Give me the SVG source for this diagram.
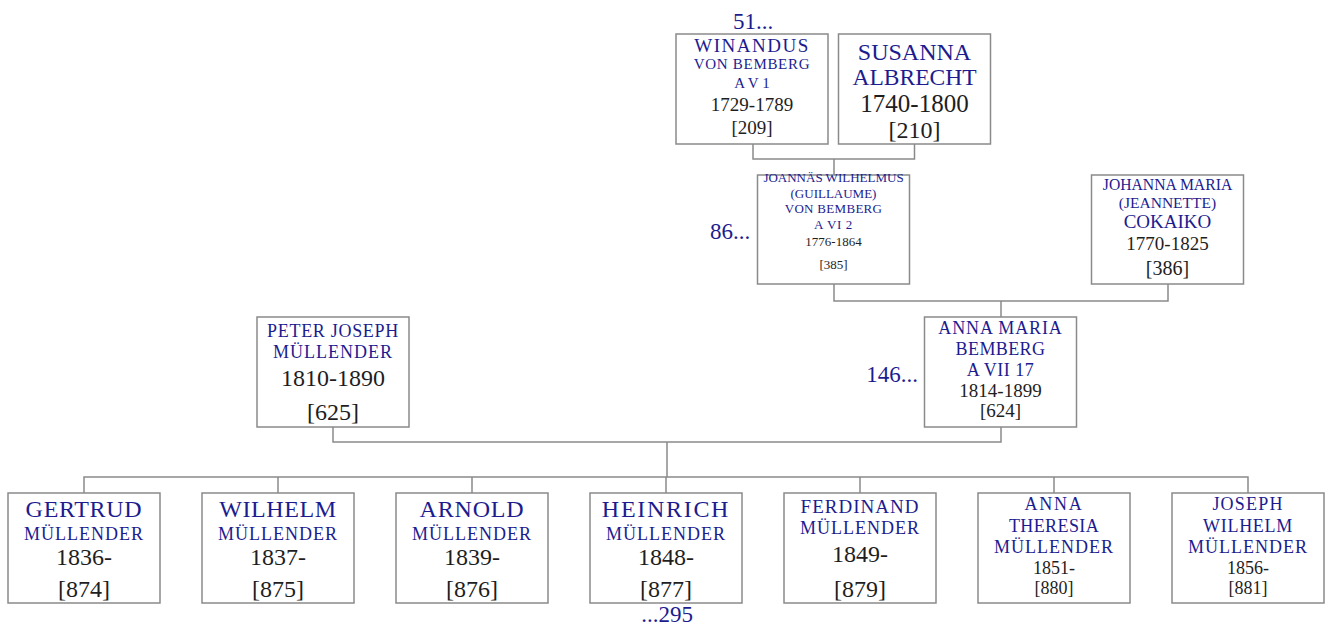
<svg xmlns="http://www.w3.org/2000/svg" width="1329" height="625" viewBox="0 0 1329 625">
<style>
text{font-family:"Liberation Serif","DejaVu Serif",serif;text-anchor:middle}
.n{fill:#1c1c8f}
.d{fill:#1e1e1e}
.box{fill:#fff;stroke:#8a8a8a;stroke-width:1.5}
.c{fill:none;stroke:#8a8a8a;stroke-width:1.5}
.m{font-size:18px;letter-spacing:1px}
</style>
<rect width="1329" height="625" fill="#fff"/>
<g id="connectors">
<path class="c" d="M753 144V159H914.5V144M834 159V175"/>
<path class="c" d="M834 284V301H1168V284M1001 301V317"/>
<path class="c" d="M333 427V442H1001V427M667 442V477"/>
<path class="c" d="M84 493V477H1248V493M278 477V493M472 477V493M666 477V493M860 477V493M1054 477V493"/>
</g>
<g id="more">
<text class="n" x="753" y="29" font-size="23">51...</text>
<text class="n" x="730" y="239" font-size="23">86...</text>
<text class="n" x="892" y="382" font-size="23">146...</text>
<text class="n" x="667" y="622" font-size="23">...295</text>
</g>
<g id="winandus">
<rect class="box" x="676" y="34" width="152" height="110"/>
<text class="n" x="752" y="52" font-size="19" letter-spacing="1.5">WINANDUS</text>
<text class="n" x="752" y="69" font-size="15" letter-spacing="0.7">VON BEMBERG</text>
<text class="n" x="752" y="88" font-size="15">A V 1</text>
<text class="d" x="752" y="111" font-size="19">1729-1789</text>
<text class="d" x="752" y="134" font-size="19">[209]</text>
</g>
<g id="susanna">
<rect class="box" x="838.5" y="34" width="152" height="110"/>
<text class="n" x="914.5" y="60" font-size="24">SUSANNA</text>
<text class="n" x="914.5" y="85" font-size="23.5">ALBRECHT</text>
<text class="d" x="914.5" y="112" font-size="25">1740-1800</text>
<text class="d" x="914.5" y="138" font-size="24">[210]</text>
</g>
<g id="joannas">
<rect class="box" x="757.5" y="175" width="152" height="109"/>
<text class="n" x="833.5" y="182" font-size="13">JOANNÄS WILHELMUS</text>
<text class="n" x="833.5" y="198" font-size="13">(GUILLAUME)</text>
<text class="n" x="833.5" y="213" font-size="13" letter-spacing="0.3">VON BEMBERG</text>
<text class="n" x="833.5" y="229" font-size="13" letter-spacing="0.6">A VI 2</text>
<text class="d" x="833.5" y="246" font-size="13">1776-1864</text>
<text class="d" x="833.5" y="269" font-size="13">[385]</text>
</g>
<g id="johanna">
<rect class="box" x="1091.5" y="175" width="152" height="109"/>
<text class="n" x="1167.5" y="190" font-size="15.7">JOHANNA MARIA</text>
<text class="n" x="1167.5" y="208" font-size="15.5">(JEANNETTE)</text>
<text class="n" x="1167.5" y="228" font-size="19">COKAIKO</text>
<text class="d" x="1167.5" y="250" font-size="19">1770-1825</text>
<text class="d" x="1167.5" y="275" font-size="20">[386]</text>
</g>
<g id="peter">
<rect class="box" x="257" y="317" width="152" height="110"/>
<text class="n" x="333" y="337" font-size="18" letter-spacing="0.7">PETER JOSEPH</text>
<text class="n m" x="333" y="358">MÜLLENDER</text>
<text class="d" x="333" y="386" font-size="24">1810-1890</text>
<text class="d" x="333" y="420" font-size="24">[625]</text>
</g>
<g id="annamaria">
<rect class="box" x="924.5" y="317" width="152" height="110"/>
<text class="n" x="1000.5" y="334" font-size="18" letter-spacing="0.9">ANNA MARIA</text>
<text class="n" x="1000.5" y="355" font-size="18" letter-spacing="0.4">BEMBERG</text>
<text class="n" x="1000.5" y="376" font-size="18" letter-spacing="0.5">A VII 17</text>
<text class="d" x="1000.5" y="397" font-size="19">1814-1899</text>
<text class="d" x="1000.5" y="417" font-size="19">[624]</text>
</g>
<g id="gertrud">
<rect class="box" x="8" y="493" width="152" height="110"/>
<text class="n" x="84" y="517" font-size="24" letter-spacing="0.7">GERTRUD</text>
<text class="n m" x="84" y="540">MÜLLENDER</text>
<text class="d" x="84" y="565" font-size="24">1836-</text>
<text class="d" x="84" y="597" font-size="24">[874]</text>
</g>
<g id="wilhelm">
<rect class="box" x="202" y="493" width="152" height="110"/>
<text class="n" x="278" y="517" font-size="24" letter-spacing="0.6">WILHELM</text>
<text class="n m" x="278" y="540">MÜLLENDER</text>
<text class="d" x="278" y="565" font-size="24">1837-</text>
<text class="d" x="278" y="597" font-size="24">[875]</text>
</g>
<g id="arnold">
<rect class="box" x="396" y="493" width="152" height="110"/>
<text class="n" x="472" y="517" font-size="24" letter-spacing="0.8">ARNOLD</text>
<text class="n m" x="472" y="540">MÜLLENDER</text>
<text class="d" x="472" y="565" font-size="24">1839-</text>
<text class="d" x="472" y="597" font-size="24">[876]</text>
</g>
<g id="heinrich">
<rect class="box" x="590" y="493" width="152" height="110"/>
<text class="n" x="666" y="517" font-size="24" letter-spacing="1.7">HEINRICH</text>
<text class="n m" x="666" y="540">MÜLLENDER</text>
<text class="d" x="666" y="565" font-size="24">1848-</text>
<text class="d" x="666" y="597" font-size="24">[877]</text>
</g>
<g id="ferdinand">
<rect class="box" x="784" y="493" width="152" height="110"/>
<text class="n" x="860" y="513" font-size="19" letter-spacing="1">FERDINAND</text>
<text class="n m" x="860" y="534">MÜLLENDER</text>
<text class="d" x="860" y="562" font-size="24">1849-</text>
<text class="d" x="860" y="597" font-size="24">[879]</text>
</g>
<g id="annatheresia">
<rect class="box" x="978" y="493" width="152" height="110"/>
<text class="n" x="1054" y="510" font-size="18" letter-spacing="1.7">ANNA</text>
<text class="n" x="1054" y="532" font-size="18" letter-spacing="0.4">THERESIA</text>
<text class="n m" x="1054" y="553">MÜLLENDER</text>
<text class="d" x="1054" y="574" font-size="18">1851-</text>
<text class="d" x="1054" y="594" font-size="18">[880]</text>
</g>
<g id="josephwilhelm">
<rect class="box" x="1172" y="493" width="152" height="110"/>
<text class="n" x="1248" y="510" font-size="18" letter-spacing="1.2">JOSEPH</text>
<text class="n" x="1248" y="532" font-size="18" letter-spacing="0.7">WILHELM</text>
<text class="n m" x="1248" y="553">MÜLLENDER</text>
<text class="d" x="1248" y="574" font-size="18">1856-</text>
<text class="d" x="1248" y="594" font-size="18">[881]</text>
</g>
</svg>
